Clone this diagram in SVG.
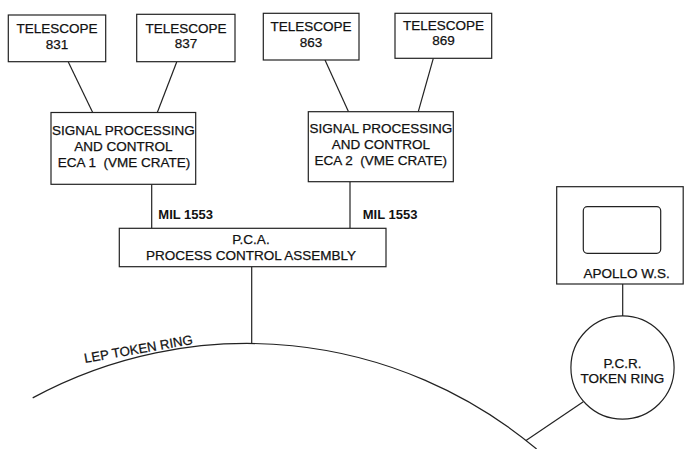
<svg xmlns="http://www.w3.org/2000/svg" width="684" height="449" viewBox="0 0 684 449">
<style>
.box{fill:#fff;stroke:#222;stroke-width:1.2}
.ln{fill:none;stroke:#222;stroke-width:1.2}
text{font-family:"Liberation Sans",Arial,sans-serif;font-size:13.5px;fill:#111;stroke:#111;stroke-width:0.25;text-anchor:middle;white-space:pre}
.b{font-weight:bold;font-size:13px;text-anchor:start;stroke-width:0}
</style>
<rect width="684" height="449" fill="#fff"/>
<g id="connectors">
<line class="ln" x1="68.3" y1="62" x2="92.7" y2="112.5"/>
<line class="ln" x1="176.7" y1="62" x2="157.3" y2="112.5"/>
<line class="ln" x1="325" y1="60" x2="348.5" y2="111.7"/>
<line class="ln" x1="433.3" y1="58.3" x2="418.3" y2="111.7"/>
<line class="ln" x1="151.7" y1="184.3" x2="151.7" y2="228.3"/>
<line class="ln" x1="350" y1="181.7" x2="350" y2="228.3"/>
<line class="ln" x1="251.7" y1="266.7" x2="251.7" y2="343.5"/>
<line class="ln" x1="622.7" y1="284" x2="622.7" y2="316"/>
<line class="ln" x1="583.3" y1="401.7" x2="526" y2="440.4"/>
<text class="b" x="158.3" y="219.3">MIL 1553</text>
<text class="b" x="362.7" y="219.3">MIL 1553</text>
</g>
<g id="lep-ring">
<path class="ln" d="M 32.7 397.9 A 455 461.5 0 0 1 536.6 449"/>
<text x="0" y="0" transform="translate(85,363) rotate(-10)" style="text-anchor:start;font-size:13.2px">LEP TOKEN RING</text>
</g>
<g id="tel831">
<rect class="box" x="8.3" y="15" width="97.4" height="46.7"/>
<text x="57" y="33.3">TELESCOPE</text>
<text x="57" y="48.5">831</text>
</g>
<g id="tel837">
<rect class="box" x="136.7" y="14.3" width="98.3" height="47.4"/>
<text x="186" y="32.5">TELESCOPE</text>
<text x="186" y="48">837</text>
</g>
<g id="tel863">
<rect class="box" x="263.3" y="13.3" width="95.7" height="46.7"/>
<text x="311" y="30.7">TELESCOPE</text>
<text x="311" y="46.7">863</text>
</g>
<g id="tel869">
<rect class="box" x="395" y="13.3" width="96.7" height="45"/>
<text x="443.5" y="30">TELESCOPE</text>
<text x="443.5" y="45.3">869</text>
</g>
<g id="eca1">
<rect class="box" x="51" y="112.5" width="144.7" height="71.8"/>
<text x="123.4" y="135">SIGNAL PROCESSING</text>
<text x="123.4" y="150.7">AND CONTROL</text>
<text x="124" y="166.7">ECA 1  (VME CRATE)</text>
</g>
<g id="eca2">
<rect class="box" x="308.3" y="111.7" width="145" height="70"/>
<text x="380.8" y="133.3">SIGNAL PROCESSING</text>
<text x="380.8" y="149">AND CONTROL</text>
<text x="380.8" y="165">ECA 2  (VME CRATE)</text>
</g>
<g id="pca">
<rect class="box" x="119.3" y="228.3" width="266.7" height="38.4"/>
<text x="251" y="244">P.C.A.</text>
<text x="251" y="260">PROCESS CONTROL ASSEMBLY</text>
</g>
<g id="apollo">
<rect class="box" x="556.7" y="186.7" width="126.5" height="97.3"/>
<rect class="box" x="583.3" y="206.7" width="77.4" height="46.6" rx="4"/>
<text x="626.7" y="278.3">APOLLO W.S.</text>
</g>
<g id="pcr">
<circle class="box" cx="622.5" cy="367.5" r="51.6"/>
<text x="622.5" y="368.3">P.C.R.</text>
<text x="622.5" y="383.3">TOKEN RING</text>
</g>
</svg>
